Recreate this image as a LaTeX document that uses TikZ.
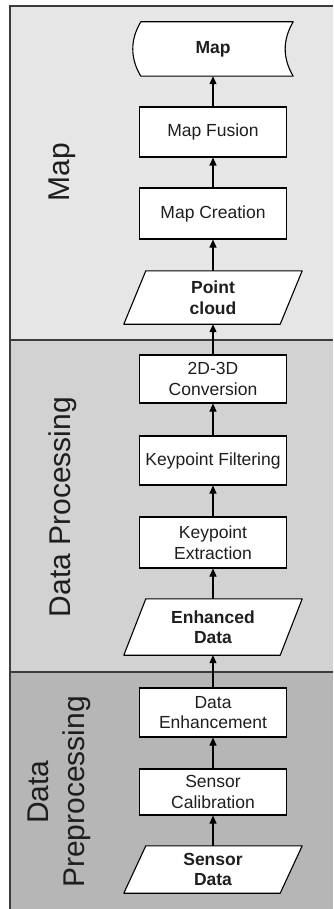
\documentclass[tikz,border=0pt]{standalone}
\usepackage{fontspec}
\setmainfont{Liberation Sans}
\usetikzlibrary{arrows.meta,calc}
\pgfdeclarelayer{bg}
\pgfdeclarelayer{shp}
\pgfsetlayers{bg,shp,main}
\definecolor{secA}{HTML}{E6E6E6}
\definecolor{secB}{HTML}{D2D2D2}
\definecolor{secC}{HTML}{B6B6B6}
\definecolor{edgec}{HTML}{3C3C3C}
\definecolor{txt}{HTML}{1E1E1E}
\begin{document}
\begin{tikzpicture}[x=1pt,y=-1pt,
  boxfont/.style={font=\fontsize{17.5}{20.5}\selectfont, text=txt},
  proc/.style={boxfont, draw=black, line width=1.1pt, fill=white, minimum width=147pt, inner sep=1pt, align=center},
  iotext/.style={boxfont, font=\fontsize{17.5}{20.5}\selectfont\bfseries, minimum width=156pt, inner sep=1pt, align=center},
  doctext/.style={boxfont, font=\fontsize{17.5}{20.5}\selectfont\bfseries, minimum width=152pt, inner sep=1pt, align=center},
  shapeline/.style={draw=black, line width=1.1pt, fill=white, line join=round},
  seclabel/.style={font=\fontsize{30}{36}\selectfont, text=txt, rotate=90, inner sep=0pt, align=center},
  divider/.style={draw=edgec, line width=1.5pt},
  arr/.style={draw=black, line width=1.1pt, -{Triangle[width=7pt,length=8pt]}}
]
\useasboundingbox (0,0) rectangle (333,909);

% nodes
\node[doctext, minimum height=54pt] (m) at (213,49) {Map};
\node[proc, minimum height=50pt] (mf) at (213,132) {Map Fusion};
\node[proc, minimum height=51pt] (mc) at (213,213.5) {Map Creation};
\node[iotext, minimum height=53pt] (pc) at (213,297.5) {Point\\cloud};
\node[proc, minimum height=48pt] (cv) at (213,379) {2D-3D\\Conversion};
\node[proc, minimum height=49pt] (kf) at (213,460.5) {Keypoint Filtering};
\node[proc, minimum height=51pt] (ke) at (213,542.5) {Keypoint\\Extraction};
\node[iotext, minimum height=56pt] (ed) at (213,627) {Enhanced\\Data};
\node[proc, minimum height=49pt] (de) at (213,712.5) {Data\\Enhancement};
\node[proc, minimum height=46pt] (sc) at (213,792) {Sensor\\Calibration};
\node[iotext, minimum height=47pt] (sd) at (213,869.5) {Sensor\\Data};

% section labels
\node[seclabel] (lmap) at (62,172) {Map};
\node[seclabel] (ldp) at (62.5,507) {Data Processing};
\node[seclabel] (lpre) at (59,792) {Data\\Preprocessing};

% backgrounds
\begin{pgfonlayer}{bg}
  \fill[secA] (10,6) rectangle (333,340);
  \fill[secB] (10,340) rectangle (333,672);
  \fill[secC] (10,672) rectangle (333,909);
  \draw[divider] (333,6) -- (10,6) -- (10,909);
  \draw[divider] (10,340) -- (333,340);
  \draw[divider] (10,672) -- (333,672);
\end{pgfonlayer}

% shapes
\begin{pgfonlayer}{shp}
  \foreach \n in {pc,ed,sd}{
    \draw[shapeline] ($(\n.south west)+(-11,0)$) -- ($(\n.north west)+(11,0)$)
      -- ($(\n.north east)+(11,0)$) -- ($(\n.south east)+(-11,0)$) -- cycle;
  }
  \draw[shapeline] ($(m.north west)+(4,0)$) -- ($(m.north east)+(4,0)$)
    .. controls ($(m.north east)+(-6.7,18)$) and ($(m.south east)+(-6.7,-18)$) .. ($(m.south east)+(4,0)$)
    -- ($(m.south west)+(4,0)$)
    .. controls ($(m.south west)+(-6.7,-18)$) and ($(m.north west)+(-6.7,18)$) .. cycle;
\end{pgfonlayer}

% connectors
\draw[arr] (sd.north) -- (sc.south);
\draw[arr] (sc.north) -- (de.south);
\draw[arr] (de.north) -- (ed.south);
\draw[arr] (ed.north) -- (ke.south);
\draw[arr] (ke.north) -- (kf.south);
\draw[arr] (kf.north) -- (cv.south);
\draw[arr] (cv.north) -- (pc.south);
\draw[arr] (pc.north) -- (mc.south);
\draw[arr] (mc.north) -- (mf.south);
\draw[arr] (mf.north) -- (m.south);
\end{tikzpicture}
\end{document}
